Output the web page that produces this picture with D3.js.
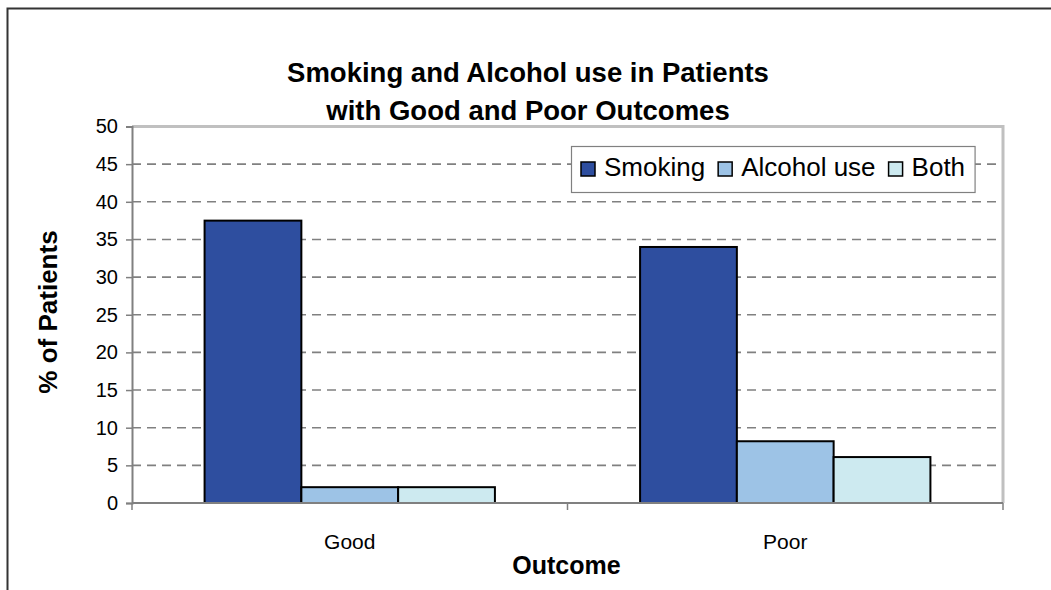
<!DOCTYPE html>
<html>
<head>
<meta charset="utf-8">
<script src="https://cdn.jsdelivr.net/npm/d3@7"></script>
<style>
  html, body { margin: 0; padding: 0; background: #fff; }
  svg { display: block; font-family: "Liberation Sans", Arial, sans-serif; }
</style>
</head>
<body>
<svg id="chart" width="1051" height="590"></svg>
<script>
// Outcome groups and the share of patients in each habit group
const categories = ["Good", "Poor"];
const seriesNames = ["Smoking", "Alcohol use", "Both"];
const smoking = [37.5, 34.0];
const alcoholUse = [2.1, 8.2];
const both = [2.1, 6.1];
const seriesColors = ["#2E4E9F", "#9DC3E6", "#CDEAF0"];
const yTicks = [0, 5, 10, 15, 20, 25, 30, 35, 40, 45, 50];
const titleLines = ["Smoking and Alcohol use in Patients", "with Good and Poor Outcomes"];

const seriesValues = [smoking, alcoholUse, both];

const svg = d3.select("#chart");
const plot = { left: 132, right: 1003, top: 126.5, bottom: 503 };

// Outer chart frame (runs past the bottom and right edges)
svg.append("rect")
  .attr("x", 7.5).attr("y", 8.5)
  .attr("width", 1200).attr("height", 800)
  .attr("fill", "none").attr("stroke", "#333").attr("stroke-width", 2);

const x = d3.scaleBand().domain(categories).range([plot.left, plot.right]);
const y = d3.scaleLinear().domain([0, 50]).range([plot.bottom, plot.top]);

// Bars fill 3 / 4.5 of each band (gap width 150%)
const barW = x.bandwidth() / 4.5;
const xs = d3.scaleBand().domain(seriesNames)
  .range([(x.bandwidth() - 3 * barW) / 2, (x.bandwidth() + 3 * barW) / 2]);

// Dashed horizontal gridlines
svg.append("g")
  .selectAll("line")
  .data(yTicks.filter(t => t > 0 && t < 50))
  .join("line")
  .attr("x1", plot.left).attr("x2", plot.right)
  .attr("y1", d => y(d)).attr("y2", d => y(d))
  .attr("stroke", "#808080").attr("stroke-width", 1.6)
  .attr("stroke-dasharray", "9,6");

// Light plot frame on top and right
svg.append("path")
  .attr("d", `M${plot.left},${y(50)}H${plot.right}V${plot.bottom}`)
  .attr("fill", "none").attr("stroke", "#C0C0C0").attr("stroke-width", 3);

// Bars
const groups = svg.append("g").selectAll("g")
  .data(categories)
  .join("g")
  .attr("transform", d => `translate(${x(d)},0)`);

groups.selectAll("rect")
  .data((c, ci) => seriesNames.map((s, si) => ({ s, si, v: seriesValues[si][ci] })))
  .join("rect")
  .attr("x", d => xs(d.s))
  .attr("width", xs.bandwidth())
  .attr("y", d => y(d.v))
  .attr("height", d => y(0) - y(d.v))
  .attr("fill", d => seriesColors[d.si])
  .attr("stroke", "#000").attr("stroke-width", 2);

// Y axis
const yAxis = svg.append("g")
  .attr("transform", `translate(${plot.left},0)`)
  .call(d3.axisLeft(y).tickValues(yTicks).tickSize(6).tickPadding(8));
yAxis.select(".domain").attr("stroke", "#808080").attr("stroke-width", 2);
yAxis.selectAll(".tick line").attr("stroke", "#808080").attr("stroke-width", 1.5);
yAxis.selectAll(".tick text")
  .attr("font-size", 20).attr("fill", "#000")
  .attr("font-family", "Liberation Sans, Arial, sans-serif");

// X axis: baseline and category separators
const xAxisG = svg.append("g");
xAxisG.append("line")
  .attr("x1", plot.left).attr("x2", plot.right)
  .attr("y1", plot.bottom).attr("y2", plot.bottom)
  .attr("stroke", "#808080").attr("stroke-width", 2);
const sepPositions = categories.map(c => x(c)).concat([x(categories[categories.length - 1]) + x.bandwidth()]);
xAxisG.selectAll("line.sep")
  .data(sepPositions)
  .join("line")
  .attr("class", "sep")
  .attr("x1", d => d).attr("x2", d => d)
  .attr("y1", plot.bottom).attr("y2", plot.bottom + 7)
  .attr("stroke", "#808080").attr("stroke-width", 1.5);
xAxisG.selectAll("text")
  .data(categories)
  .join("text")
  .attr("x", d => x(d) + x.bandwidth() / 2)
  .attr("y", 549)
  .attr("text-anchor", "middle")
  .attr("font-size", 21)
  .text(d => d);

// Axis titles
svg.append("text")
  .attr("x", x.range()[0] + (x.range()[1] - x.range()[0]) / 2 - 1)
  .attr("y", 574)
  .attr("text-anchor", "middle")
  .attr("font-size", 25).attr("font-weight", "bold")
  .text("Outcome");

svg.append("text")
  .attr("transform", "translate(57,312) rotate(-90)")
  .attr("text-anchor", "middle")
  .attr("font-size", 26).attr("font-weight", "bold")
  .text("% of Patients");

// Title
svg.append("g").selectAll("text")
  .data(titleLines)
  .join("text")
  .attr("x", 528)
  .attr("y", (d, i) => 82 + i * 38)
  .attr("text-anchor", "middle")
  .attr("font-size", 27.5).attr("font-weight", "bold")
  .text(d => d);

// Legend
const legend = svg.append("g");
const legendBox = legend.append("rect")
  .attr("fill", "#fff").attr("stroke", "#808080").attr("stroke-width", 1.2);
let cursor = 581;
const legendY = 162;
seriesNames.forEach((name, i) => {
  legend.append("rect")
    .attr("x", cursor).attr("y", legendY)
    .attr("width", 14).attr("height", 14)
    .attr("fill", seriesColors[i]).attr("stroke", "#000").attr("stroke-width", 1.5);
  const t = legend.append("text")
    .attr("x", cursor + 23).attr("y", legendY + 14)
    .attr("font-size", 26)
    .text(name);
  cursor += 23 + t.node().getComputedTextLength() + 13;
});
legendBox
  .attr("x", 571.5).attr("y", 146.5)
  .attr("width", cursor - 13 + 10 - 571.5).attr("height", 46);
</script>
</body>
</html>
